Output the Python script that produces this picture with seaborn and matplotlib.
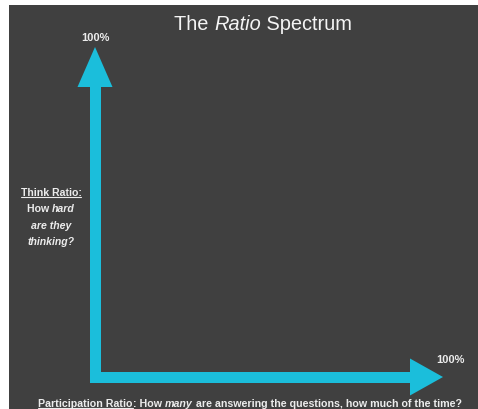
import matplotlib
matplotlib.use("Agg")
import matplotlib.pyplot as plt
import seaborn as sns
from matplotlib import font_manager
from matplotlib.lines import Line2D

sns.set_theme(style="white")

# ---- data ----
axis_names = ["Participation Ratio", "Think Ratio"]
axis_max = [100, 100]            # percent, x then y
tick_labels = ["100%", "100%"]
title_parts = [("The ", "normal", False), ("Ratio", "italic", False), (" Spectrum", "normal", False)]
y_label_lines = [
    [("Think Ratio:", "normal", True)],
    [("How ", "normal", False), ("hard", "italic", False)],
    [("are they", "italic", False)],
    [("thinking?", "italic", False)],
]
x_label_parts = [("Participation Ratio", "normal", True), (": How ", "normal", False),
                 ("many", "italic", False),
                 (" are answering the questions, how much of the time?", "normal", False)]

# ---- style ----
W, H, DPI = 478, 410, 100
BG = "#404040"
CYAN = "#1bbedb"
TXT = "#ececec"
names = {f.name for f in font_manager.fontManager.ttflist}
NARROW = "Liberation Sans Narrow" if "Liberation Sans Narrow" in names else "Liberation Sans"
plt.rcParams["font.family"] = [NARROW, "DejaVu Sans"]

fig = plt.figure(figsize=(W / DPI, H / DPI), dpi=DPI, facecolor="white")
L_PX, T_PX = 9, 6
ax = fig.add_axes([L_PX / W, 0, 1 - L_PX / W, 1 - T_PX / H])
ax.set_facecolor(BG)
for s in ax.spines.values():
    s.set_visible(False)
ax.set_xticks([]); ax.set_yticks([])

# pixel layout of origin and arrow tips
X0, X100, Y0, Y100 = 95, 443, 378, 48
sx = (X100 - X0) / axis_max[0]
sy = (Y0 - Y100) / axis_max[1]
ax.set_xlim((L_PX - X0) / sx, (W - X0) / sx)
ax.set_ylim((Y0 - H) / sy, (Y0 - T_PX) / sy)

xm, ym = axis_max
shaft_px = 11
vh_len, vh_half = 40, 17.5
hh_len, hh_half = 33, 18.5
ax.plot([0, 0, xm - hh_len / sx + 0.5], [ym - vh_len / sy + 0.5, 0, 0], color=CYAN,
        lw=shaft_px * 72 / DPI, solid_joinstyle="miter", solid_capstyle="butt")
ax.fill([-vh_half / sx, 0, vh_half / sx], [ym - vh_len / sy, ym, ym - vh_len / sy], color=CYAN, lw=0)
ax.fill([xm - hh_len / sx, xm, xm - hh_len / sx], [hh_half / sy, 0, -hh_half / sy], color=CYAN, lw=0)

pt = 72 / DPI
ax.annotate(tick_labels[1], (0, ym), xytext=(0, 10 * pt), textcoords="offset points",
            ha="center", va="center", color=TXT, fontsize=8, fontweight="bold")
ax.annotate(tick_labels[0], (xm, 0), xytext=(7 * pt, 18 * pt), textcoords="offset points",
            ha="center", va="center", color=TXT, fontsize=8, fontweight="bold")

fig.canvas.draw()
R = fig.canvas.get_renderer()


def seg_width(s, size, style, weight):
    def w(txt):
        t = fig.text(0, 0, txt, fontsize=size, fontstyle=style, fontweight=weight)
        ww = t.get_window_extent(R).width
        t.remove()
        return ww
    return w("|" + s + "|") - 2 * w("|")


def draw_line(parts, cx, base_y, size, color, weight="normal", target=None):
    """base_y: baseline position in pixels from the top."""
    if target is not None:
        tot = sum(seg_width(s, size, st, weight) for s, st, _ in parts)
        size = size * target / tot
    widths = [seg_width(s, size, st, weight) for s, st, _ in parts]
    x = cx - sum(widths) / 2
    for (s, st, ul), w in zip(parts, widths):
        fig.text(x / W, 1 - base_y / H, s, fontsize=size, fontstyle=st, fontweight=weight,
                 color=color, ha="left", va="baseline")
        if ul:
            yy = 1 - (base_y + 1.6) / H
            fig.add_artist(Line2D([x / W, (x + w) / W], [yy, yy], transform=fig.transFigure,
                                  color=color, lw=0.8))
        x += w
    return size


draw_line(title_parts, 263, 30, 15, "#f4f4f4", target=179)
sz = None
ys = [196, 212, 229, 245]
for line, y in zip(y_label_lines, ys):
    if sz is None:
        sz = draw_line(line, 51, y, 9, TXT, weight="bold", target=61)
    else:
        draw_line(line, 51, y, sz, TXT, weight="bold")
draw_line(x_label_parts, 250, 407, 8, TXT, weight="bold", target=425)

fig.savefig("out.png", dpi=DPI, facecolor=fig.get_facecolor())
